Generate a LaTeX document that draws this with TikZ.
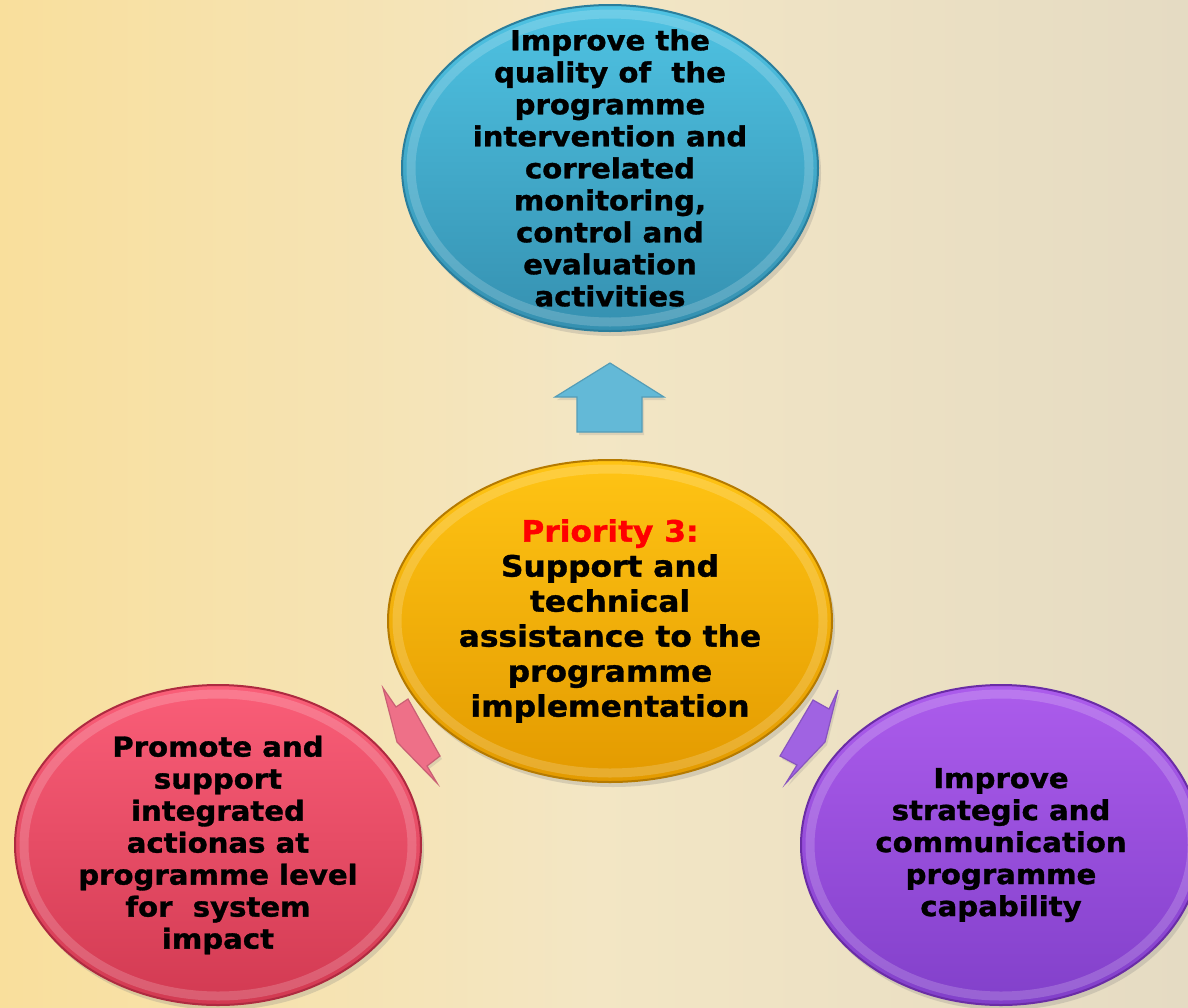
\documentclass[tikz,border=0pt]{standalone}
\usepackage{fontspec}
\setmainfont{DejaVu Sans}[BoldFeatures={FakeStretch=1.06, FakeBold=1.2}]
\usepackage{tikz}
\usetikzlibrary{shapes.geometric, shadows, calc}

\definecolor{bgleft}{HTML}{F9DF9C}
\definecolor{bgmid}{HTML}{F3E6C4}
\definecolor{bgright}{HTML}{E5DBC3}
\definecolor{bluetop}{HTML}{4FC3E3}
\definecolor{bluebot}{HTML}{3590B0}
\definecolor{blueedge}{HTML}{2A7E9C}
\definecolor{goldtop}{HTML}{FFC414}
\definecolor{goldbot}{HTML}{E39A00}
\definecolor{goldedge}{HTML}{B57A00}
\definecolor{pinktop}{HTML}{FA5E78}
\definecolor{pinkbot}{HTML}{D23A52}
\definecolor{pinkedge}{HTML}{AE2A40}
\definecolor{violettop}{HTML}{AC5CEC}
\definecolor{violetbot}{HTML}{8240CA}
\definecolor{violetedge}{HTML}{6A2CA6}
\definecolor{arrowblue}{HTML}{63B9D7}
\definecolor{arrowpink}{HTML}{EE7088}
\definecolor{arrowviolet}{HTML}{A063E2}

\tikzstyle{bubble} = [ellipse, draw, line width=2pt, inner sep=0pt,
  drop shadow={opacity=0.25, shadow xshift=3pt, shadow yshift=-5pt},
  path picture={\draw[white, opacity=0.18, line width=9pt]
    let \p1=(path picture bounding box.north east),
        \p2=(path picture bounding box.south west) in
    (path picture bounding box.center)
    ellipse ({0.5*(\x1-\x2)-9pt} and {0.5*(\y1-\y2)-9pt});}]
\tikzstyle{bubbletext} = [align=center, text=black,
  font=\bfseries\fontsize{27.5}{32}\selectfont]
\tikzstyle{blockarrow} = [line width=1.2pt, line join=miter,
  drop shadow={opacity=0.2, shadow xshift=2pt, shadow yshift=-3pt}]

\begin{document}
\begin{tikzpicture}[x=1pt, y=-1pt]
  \clip (0,0) rectangle (1188,1007);
  \shade[left color=bgleft, right color=bgright, middle color=bgmid]
    (0,0) rectangle (1188,1007);

  % ellipses
  \node (quality) [bubble, minimum width=416pt, minimum height=326pt,
    top color=bluetop, bottom color=bluebot, draw=blueedge] at (610,168) {};
  \node (priority) [bubble, minimum width=444pt, minimum height=322pt,
    top color=goldtop, bottom color=goldbot, draw=goldedge] at (610,621) {};
  \node (integrated) [bubble, minimum width=406pt, minimum height=320pt,
    top color=pinktop, bottom color=pinkbot, draw=pinkedge] at (218,845) {};
  \node (strategic) [bubble, minimum width=400pt, minimum height=320pt,
    top color=violettop, bottom color=violetbot, draw=violetedge] at (1001,845) {};

  % texts
  \node (qualitytext) [bubbletext] at (quality.center) {Improve the\\
    quality of \ the\\ programme\\ intervention and\\ correlated\\
    monitoring,\\ control and\\ evaluation\\ activities};
  \node (prioritytext) [bubbletext, font=\bfseries\fontsize{29.5}{35}\selectfont]
    at (priority.center) {\textcolor{red}{Priority 3:}\\ Support and\\
    technical\\ assistance to the\\ programme\\ implementation};
  \node (integratedtext) [bubbletext] at (integrated.center) {Promote and\\
    support\\ integrated\\ actionas at\\ programme level\\ for \ system\\ impact};
  \node (strategictext) [bubbletext] at (strategic.center) {Improve\\
    strategic and\\ communication\\ programme\\ capability};

  % block arrows
  \draw [blockarrow, fill=arrowblue, draw=arrowblue!85!black]
    (610,363) -- (664,397) -- (642,397) -- (642,432) -- (577,432)
    -- (577,397) -- (555,397) -- cycle;
  \draw [blockarrow, fill=arrowpink, draw=arrowpink!85!black]
    (383,688) -- (396,707) -- (408,699) -- (440,756) -- (427,766)
    -- (437,783) -- (397,742) -- cycle;
  \draw [blockarrow, fill=arrowviolet, draw=arrowviolet!85!black]
    (838,690) -- (825,742) -- (786,783) -- (797,765) -- (780,756)
    -- (813,700) -- (829,709) -- cycle;
\end{tikzpicture}
\end{document}
